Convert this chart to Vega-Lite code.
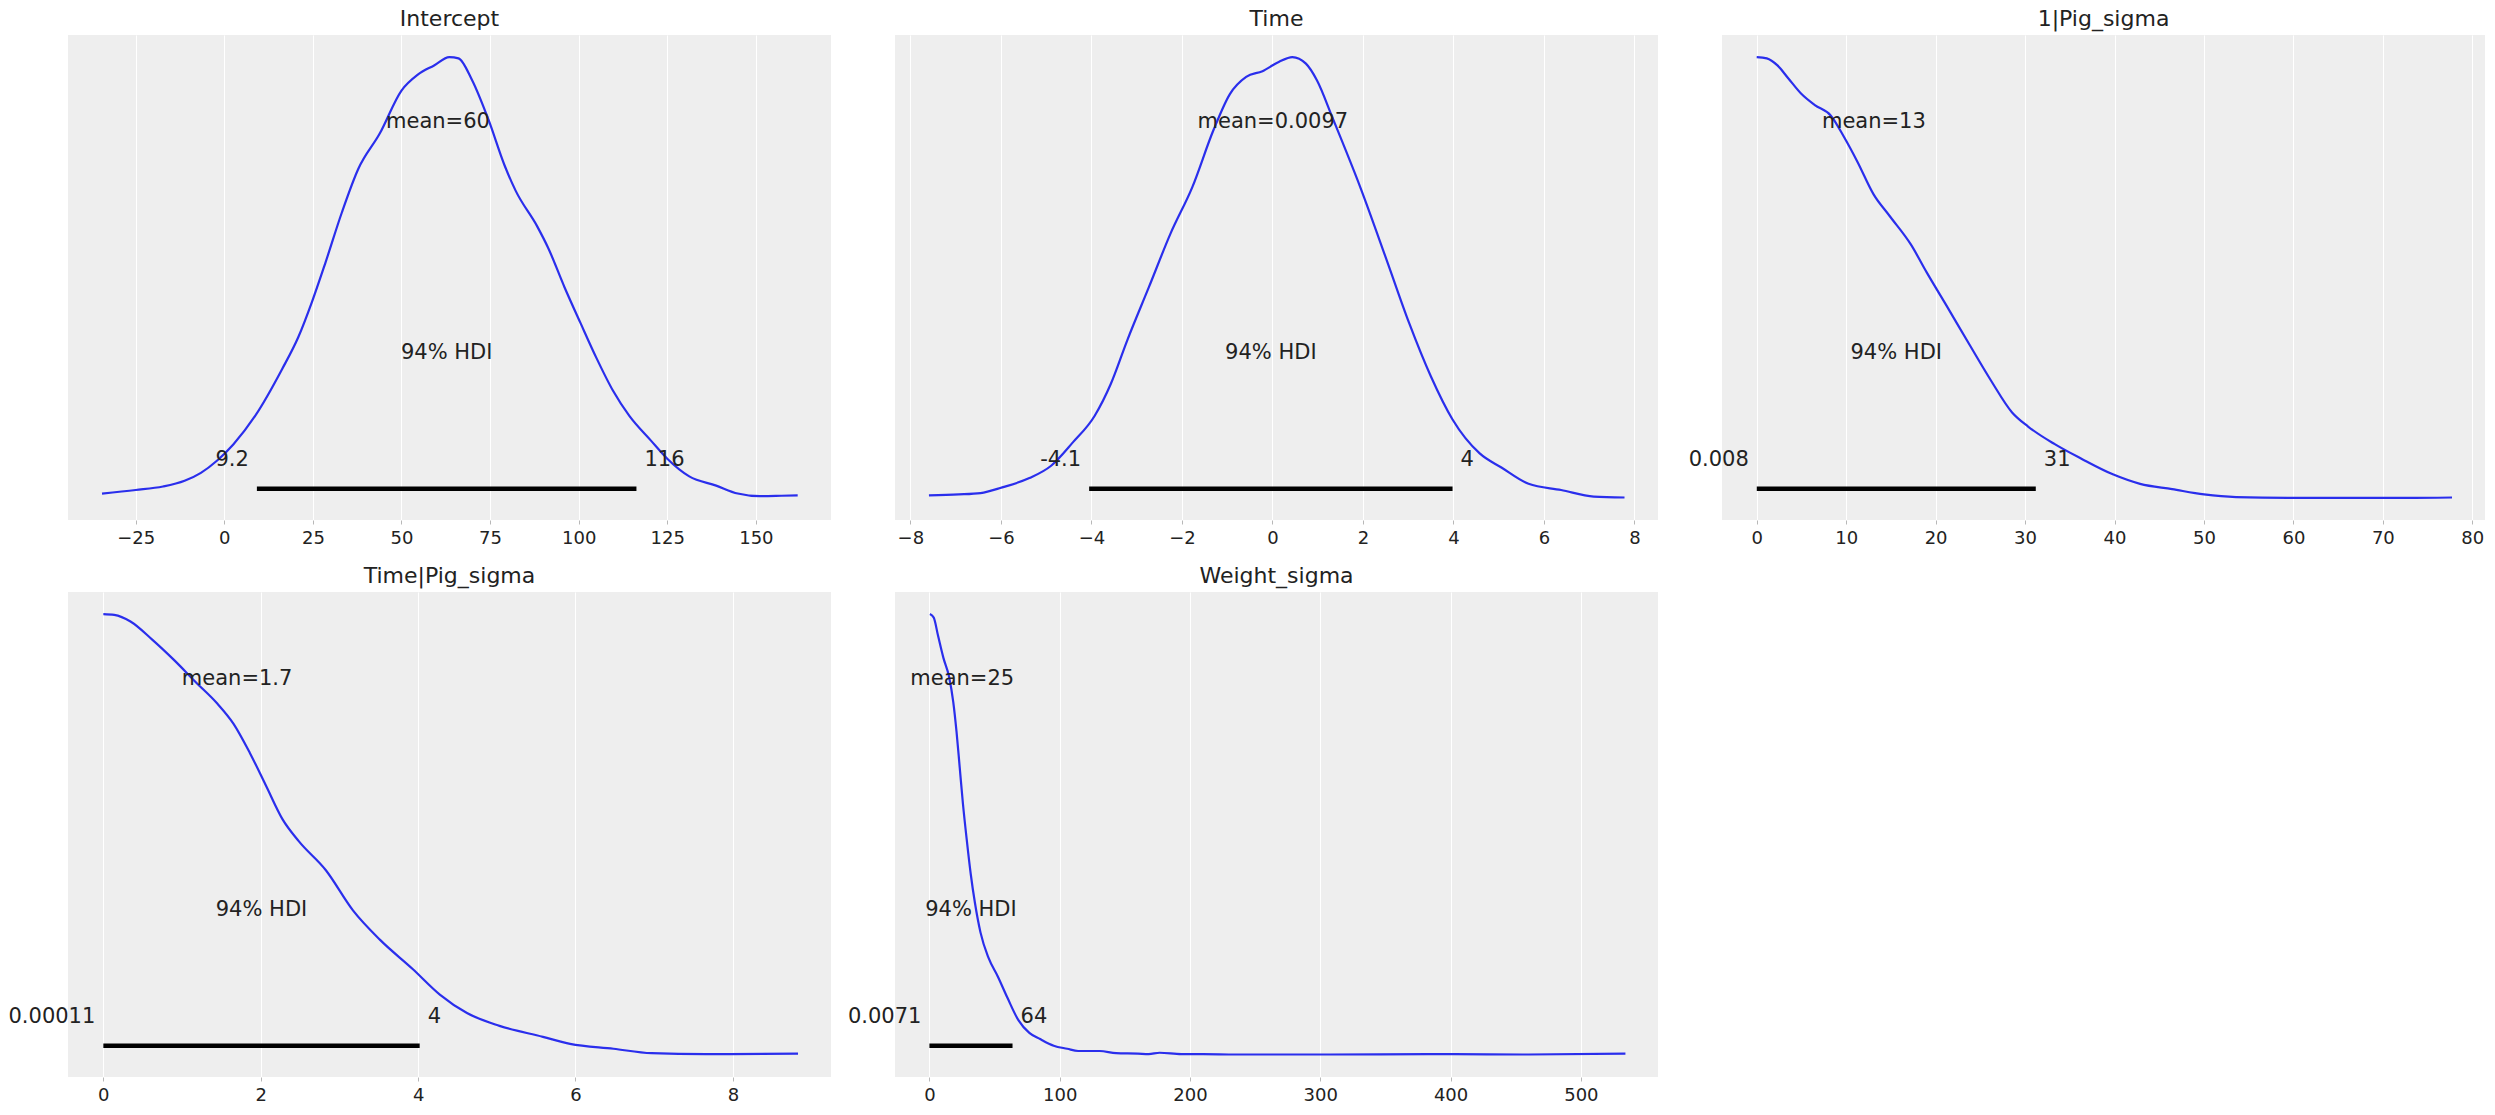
{
  "$schema": "https://vega.github.io/schema/vega-lite/v6.json",
  "background": "white",
  "autosize": {"type": "pad"},
  "padding": {"left": 8, "top": 8, "right": 5, "bottom": 5},
  "bounds": "flush",
  "columns": 3,
  "spacing": {"row": 72, "column": 64},
  "datasets": {
    "kde": [
      {"p":"Intercept","x":-34.5,"y":0.010},{"p":"Intercept","x":-25,"y":0.018},{"p":"Intercept","x":-17.3,"y":0.026},{"p":"Intercept","x":-11.2,"y":0.039},{"p":"Intercept","x":-6.6,"y":0.057},{"p":"Intercept","x":-2.0,"y":0.085},{"p":"Intercept","x":2.6,"y":0.122},{"p":"Intercept","x":8.7,"y":0.186},{"p":"Intercept","x":16.3,"y":0.292},{"p":"Intercept","x":20.9,"y":0.365},{"p":"Intercept","x":24.8,"y":0.446},{"p":"Intercept","x":28.6,"y":0.535},{"p":"Intercept","x":33.2,"y":0.648},{"p":"Intercept","x":37.8,"y":0.746},{"p":"Intercept","x":43.9,"y":0.827},{"p":"Intercept","x":50.0,"y":0.924},{"p":"Intercept","x":54.6,"y":0.960},{"p":"Intercept","x":59.2,"y":0.981},{"p":"Intercept","x":63.5,"y":1.0},{"p":"Intercept","x":66.1,"y":0.997},{"p":"Intercept","x":69.9,"y":0.948},{"p":"Intercept","x":74.5,"y":0.859},{"p":"Intercept","x":79.1,"y":0.754},{"p":"Intercept","x":82.2,"y":0.697},{"p":"Intercept","x":88.3,"y":0.616},{"p":"Intercept","x":91.4,"y":0.567},{"p":"Intercept","x":96.0,"y":0.478},{"p":"Intercept","x":100.5,"y":0.397},{"p":"Intercept","x":105.1,"y":0.316},{"p":"Intercept","x":109.7,"y":0.243},{"p":"Intercept","x":114.3,"y":0.186},{"p":"Intercept","x":120.4,"y":0.130},{"p":"Intercept","x":125.0,"y":0.089},{"p":"Intercept","x":131.2,"y":0.049},{"p":"Intercept","x":138.8,"y":0.028},{"p":"Intercept","x":144.9,"y":0.010},{"p":"Intercept","x":151.1,"y":0.004},{"p":"Intercept","x":157.2,"y":0.005},{"p":"Intercept","x":161.8,"y":0.006},
      {"p":"Time","x":-7.59,"y":0.006},{"p":"Time","x":-6.93,"y":0.008},{"p":"Time","x":-6.45,"y":0.011},{"p":"Time","x":-5.97,"y":0.024},{"p":"Time","x":-5.37,"y":0.045},{"p":"Time","x":-4.89,"y":0.073},{"p":"Time","x":-4.41,"y":0.126},{"p":"Time","x":-3.93,"y":0.186},{"p":"Time","x":-3.57,"y":0.259},{"p":"Time","x":-3.21,"y":0.357},{"p":"Time","x":-2.73,"y":0.478},{"p":"Time","x":-2.25,"y":0.600},{"p":"Time","x":-1.77,"y":0.705},{"p":"Time","x":-1.30,"y":0.835},{"p":"Time","x":-0.94,"y":0.916},{"p":"Time","x":-0.58,"y":0.955},{"p":"Time","x":-0.22,"y":0.968},{"p":"Time","x":0.14,"y":0.989},{"p":"Time","x":0.44,"y":1.0},{"p":"Time","x":0.74,"y":0.985},{"p":"Time","x":0.98,"y":0.948},{"p":"Time","x":1.34,"y":0.859},{"p":"Time","x":1.94,"y":0.705},{"p":"Time","x":2.54,"y":0.535},{"p":"Time","x":3.02,"y":0.397},{"p":"Time","x":3.50,"y":0.276},{"p":"Time","x":3.98,"y":0.178},{"p":"Time","x":4.58,"y":0.101},{"p":"Time","x":5.06,"y":0.069},{"p":"Time","x":5.66,"y":0.032},{"p":"Time","x":6.38,"y":0.018},{"p":"Time","x":7.10,"y":0.003},{"p":"Time","x":7.78,"y":0.001},
      {"p":"1|Pig_sigma","x":0,"y":1.0},{"p":"1|Pig_sigma","x":1.13,"y":0.997},{"p":"1|Pig_sigma","x":2.32,"y":0.981},{"p":"1|Pig_sigma","x":3.52,"y":0.952},{"p":"1|Pig_sigma","x":5.01,"y":0.916},{"p":"1|Pig_sigma","x":6.50,"y":0.891},{"p":"1|Pig_sigma","x":8.29,"y":0.867},{"p":"1|Pig_sigma","x":9.78,"y":0.818},{"p":"1|Pig_sigma","x":11.27,"y":0.762},{"p":"1|Pig_sigma","x":13.05,"y":0.689},{"p":"1|Pig_sigma","x":14.84,"y":0.640},{"p":"1|Pig_sigma","x":17.23,"y":0.575},{"p":"1|Pig_sigma","x":19.02,"y":0.511},{"p":"1|Pig_sigma","x":21.40,"y":0.430},{"p":"1|Pig_sigma","x":23.78,"y":0.348},{"p":"1|Pig_sigma","x":26.17,"y":0.267},{"p":"1|Pig_sigma","x":28.55,"y":0.194},{"p":"1|Pig_sigma","x":30.34,"y":0.162},{"p":"1|Pig_sigma","x":33.32,"y":0.122},{"p":"1|Pig_sigma","x":36.30,"y":0.089},{"p":"1|Pig_sigma","x":39.88,"y":0.053},{"p":"1|Pig_sigma","x":42.86,"y":0.032},{"p":"1|Pig_sigma","x":46.44,"y":0.020},{"p":"1|Pig_sigma","x":50.01,"y":0.008},{"p":"1|Pig_sigma","x":53.59,"y":0.002},{"p":"1|Pig_sigma","x":60.74,"y":0.0},{"p":"1|Pig_sigma","x":72.67,"y":0.0},{"p":"1|Pig_sigma","x":77.73,"y":0.001},
      {"p":"Time|Pig_sigma","x":0,"y":1.0},{"p":"Time|Pig_sigma","x":0.138,"y":0.998},{"p":"Time|Pig_sigma","x":0.345,"y":0.983},{"p":"Time|Pig_sigma","x":0.621,"y":0.942},{"p":"Time|Pig_sigma","x":0.897,"y":0.896},{"p":"Time|Pig_sigma","x":1.172,"y":0.846},{"p":"Time|Pig_sigma","x":1.448,"y":0.797},{"p":"Time|Pig_sigma","x":1.655,"y":0.751},{"p":"Time|Pig_sigma","x":1.862,"y":0.685},{"p":"Time|Pig_sigma","x":2.069,"y":0.610},{"p":"Time|Pig_sigma","x":2.276,"y":0.535},{"p":"Time|Pig_sigma","x":2.483,"y":0.485},{"p":"Time|Pig_sigma","x":2.828,"y":0.419},{"p":"Time|Pig_sigma","x":3.172,"y":0.328},{"p":"Time|Pig_sigma","x":3.517,"y":0.261},{"p":"Time|Pig_sigma","x":3.931,"y":0.195},{"p":"Time|Pig_sigma","x":4.276,"y":0.137},{"p":"Time|Pig_sigma","x":4.621,"y":0.095},{"p":"Time|Pig_sigma","x":5.034,"y":0.066},{"p":"Time|Pig_sigma","x":5.586,"y":0.041},{"p":"Time|Pig_sigma","x":5.931,"y":0.025},{"p":"Time|Pig_sigma","x":6.483,"y":0.014},{"p":"Time|Pig_sigma","x":6.966,"y":0.004},{"p":"Time|Pig_sigma","x":7.655,"y":0.002},{"p":"Time|Pig_sigma","x":8.828,"y":0.003},
      {"p":"Weight_sigma","x":0.4,"y":1.0},{"p":"Weight_sigma","x":3.3,"y":0.992},{"p":"Weight_sigma","x":6.7,"y":0.950},{"p":"Weight_sigma","x":10.8,"y":0.900},{"p":"Weight_sigma","x":15.0,"y":0.859},{"p":"Weight_sigma","x":18.3,"y":0.801},{"p":"Weight_sigma","x":20.8,"y":0.734},{"p":"Weight_sigma","x":23.3,"y":0.651},{"p":"Weight_sigma","x":25.8,"y":0.568},{"p":"Weight_sigma","x":28.75,"y":0.486},{"p":"Weight_sigma","x":31.7,"y":0.411},{"p":"Weight_sigma","x":35.0,"y":0.344},{"p":"Weight_sigma","x":39.2,"y":0.278},{"p":"Weight_sigma","x":45.4,"y":0.220},{"p":"Weight_sigma","x":52.5,"y":0.178},{"p":"Weight_sigma","x":60.0,"y":0.129},{"p":"Weight_sigma","x":68.3,"y":0.079},{"p":"Weight_sigma","x":76.7,"y":0.050},{"p":"Weight_sigma","x":85.0,"y":0.036},{"p":"Weight_sigma","x":95.4,"y":0.021},{"p":"Weight_sigma","x":105.8,"y":0.014},{"p":"Weight_sigma","x":114.2,"y":0.009},{"p":"Weight_sigma","x":130.8,"y":0.009},{"p":"Weight_sigma","x":143.3,"y":0.004},{"p":"Weight_sigma","x":160.0,"y":0.003},{"p":"Weight_sigma","x":168.3,"y":0.002},{"p":"Weight_sigma","x":176.7,"y":0.005},{"p":"Weight_sigma","x":193.3,"y":0.002},{"p":"Weight_sigma","x":210,"y":0.002},{"p":"Weight_sigma","x":235,"y":0.001},{"p":"Weight_sigma","x":293,"y":0.001},{"p":"Weight_sigma","x":397.5,"y":0.002},{"p":"Weight_sigma","x":460,"y":0.001},{"p":"Weight_sigma","x":534.2,"y":0.003}
    ],
    "hdi": [
      {"p":"Intercept","mean":60.3,"mean_label":"mean=60","hdi_low":9.2,"hdi_high":116.3,"hdi_mid":62.75,"low_label":"9.2","high_label":"116","hdi_label":"94% HDI"},
      {"p":"Time","mean":0.0097,"mean_label":"mean=0.0097","hdi_low":-4.05,"hdi_high":3.98,"hdi_mid":-0.035,"low_label":"-4.1","high_label":"4","hdi_label":"94% HDI"},
      {"p":"1|Pig_sigma","mean":13.1,"mean_label":"mean=13","hdi_low":0.008,"hdi_high":31.2,"hdi_mid":15.6,"low_label":"0.008","high_label":"31","hdi_label":"94% HDI"},
      {"p":"Time|Pig_sigma","mean":1.7,"mean_label":"mean=1.7","hdi_low":0.00011,"hdi_high":4.02,"hdi_mid":2.01,"low_label":"0.00011","high_label":"4","hdi_label":"94% HDI"},
      {"p":"Weight_sigma","mean":25.2,"mean_label":"mean=25","hdi_low":0.0071,"hdi_high":63.8,"hdi_mid":31.9,"low_label":"0.0071","high_label":"64","hdi_label":"94% HDI"}
    ]
  },
  "concat": [
    {
      "title": "Intercept", "width": 763, "height": 485,
      "layer": [
        {"data": {"name": "kde"}, "transform": [{"filter": "datum.p === 'Intercept'"}], "mark": {"type": "line", "color": "#2a2eec", "strokeWidth": 2.2, "interpolate": "monotone"},
         "encoding": {"x": {"field": "x", "type": "quantitative", "scale": {"domain": [-44.1, 171.2], "nice": false, "zero": false}, "axis": {"values": [-25, 0, 25, 50, 75, 100, 125, 150], "title": null, "format": "d"}},
                      "y": {"field": "y", "type": "quantitative", "scale": {"domain": [-0.05, 1.05], "nice": false, "zero": false}, "axis": null}}},
        {"data": {"name": "hdi"}, "transform": [{"filter": "datum.p === 'Intercept'"}], "mark": {"type": "rule", "color": "#000000", "strokeWidth": 4.5, "strokeCap": "butt"},
         "encoding": {"x": {"field": "hdi_low", "type": "quantitative"}, "x2": {"field": "hdi_high"}, "y": {"datum": 0.021}}},
        {"data": {"name": "hdi"}, "transform": [{"filter": "datum.p === 'Intercept'"}], "mark": {"type": "text", "fontSize": 21, "color": "#222222", "baseline": "alphabetic", "align": "center"},
         "encoding": {"x": {"field": "mean", "type": "quantitative"}, "y": {"datum": 0.84}, "text": {"field": "mean_label"}}},
        {"data": {"name": "hdi"}, "transform": [{"filter": "datum.p === 'Intercept'"}], "mark": {"type": "text", "fontSize": 21, "color": "#222222", "baseline": "alphabetic", "align": "center"},
         "encoding": {"x": {"field": "hdi_mid", "type": "quantitative"}, "y": {"datum": 0.315}, "text": {"field": "hdi_label"}}},
        {"data": {"name": "hdi"}, "transform": [{"filter": "datum.p === 'Intercept'"}], "mark": {"type": "text", "fontSize": 21, "color": "#222222", "baseline": "alphabetic", "align": "right", "dx": -8},
         "encoding": {"x": {"field": "hdi_low", "type": "quantitative"}, "y": {"datum": 0.0735}, "text": {"field": "low_label"}}},
        {"data": {"name": "hdi"}, "transform": [{"filter": "datum.p === 'Intercept'"}], "mark": {"type": "text", "fontSize": 21, "color": "#222222", "baseline": "alphabetic", "align": "left", "dx": 8},
         "encoding": {"x": {"field": "hdi_high", "type": "quantitative"}, "y": {"datum": 0.0735}, "text": {"field": "high_label"}}}
      ]
    },
    {
      "title": "Time", "width": 763, "height": 485,
      "layer": [
        {"data": {"name": "kde"}, "transform": [{"filter": "datum.p === 'Time'"}], "mark": {"type": "line", "color": "#2a2eec", "strokeWidth": 2.2, "interpolate": "monotone"},
         "encoding": {"x": {"field": "x", "type": "quantitative", "scale": {"domain": [-8.34, 8.52], "nice": false, "zero": false}, "axis": {"values": [-8, -6, -4, -2, 0, 2, 4, 6, 8], "title": null, "format": "d"}},
                      "y": {"field": "y", "type": "quantitative", "scale": {"domain": [-0.05, 1.05], "nice": false, "zero": false}, "axis": null}}},
        {"data": {"name": "hdi"}, "transform": [{"filter": "datum.p === 'Time'"}], "mark": {"type": "rule", "color": "#000000", "strokeWidth": 4.5, "strokeCap": "butt"},
         "encoding": {"x": {"field": "hdi_low", "type": "quantitative"}, "x2": {"field": "hdi_high"}, "y": {"datum": 0.021}}},
        {"data": {"name": "hdi"}, "transform": [{"filter": "datum.p === 'Time'"}], "mark": {"type": "text", "fontSize": 21, "color": "#222222", "baseline": "alphabetic", "align": "center"},
         "encoding": {"x": {"field": "mean", "type": "quantitative"}, "y": {"datum": 0.84}, "text": {"field": "mean_label"}}},
        {"data": {"name": "hdi"}, "transform": [{"filter": "datum.p === 'Time'"}], "mark": {"type": "text", "fontSize": 21, "color": "#222222", "baseline": "alphabetic", "align": "center"},
         "encoding": {"x": {"field": "hdi_mid", "type": "quantitative"}, "y": {"datum": 0.315}, "text": {"field": "hdi_label"}}},
        {"data": {"name": "hdi"}, "transform": [{"filter": "datum.p === 'Time'"}], "mark": {"type": "text", "fontSize": 21, "color": "#222222", "baseline": "alphabetic", "align": "right", "dx": -8},
         "encoding": {"x": {"field": "hdi_low", "type": "quantitative"}, "y": {"datum": 0.0735}, "text": {"field": "low_label"}}},
        {"data": {"name": "hdi"}, "transform": [{"filter": "datum.p === 'Time'"}], "mark": {"type": "text", "fontSize": 21, "color": "#222222", "baseline": "alphabetic", "align": "left", "dx": 8},
         "encoding": {"x": {"field": "hdi_high", "type": "quantitative"}, "y": {"datum": 0.0735}, "text": {"field": "high_label"}}}
      ]
    },
    {
      "title": "1|Pig_sigma", "width": 763, "height": 485,
      "layer": [
        {"data": {"name": "kde"}, "transform": [{"filter": "datum.p === '1|Pig_sigma'"}], "mark": {"type": "line", "color": "#2a2eec", "strokeWidth": 2.2, "interpolate": "monotone"},
         "encoding": {"x": {"field": "x", "type": "quantitative", "scale": {"domain": [-3.88, 81.42], "nice": false, "zero": false}, "axis": {"values": [0, 10, 20, 30, 40, 50, 60, 70, 80], "title": null, "format": "d"}},
                      "y": {"field": "y", "type": "quantitative", "scale": {"domain": [-0.05, 1.05], "nice": false, "zero": false}, "axis": null}}},
        {"data": {"name": "hdi"}, "transform": [{"filter": "datum.p === '1|Pig_sigma'"}], "mark": {"type": "rule", "color": "#000000", "strokeWidth": 4.5, "strokeCap": "butt"},
         "encoding": {"x": {"field": "hdi_low", "type": "quantitative"}, "x2": {"field": "hdi_high"}, "y": {"datum": 0.021}}},
        {"data": {"name": "hdi"}, "transform": [{"filter": "datum.p === '1|Pig_sigma'"}], "mark": {"type": "text", "fontSize": 21, "color": "#222222", "baseline": "alphabetic", "align": "center"},
         "encoding": {"x": {"field": "mean", "type": "quantitative"}, "y": {"datum": 0.84}, "text": {"field": "mean_label"}}},
        {"data": {"name": "hdi"}, "transform": [{"filter": "datum.p === '1|Pig_sigma'"}], "mark": {"type": "text", "fontSize": 21, "color": "#222222", "baseline": "alphabetic", "align": "center"},
         "encoding": {"x": {"field": "hdi_mid", "type": "quantitative"}, "y": {"datum": 0.315}, "text": {"field": "hdi_label"}}},
        {"data": {"name": "hdi"}, "transform": [{"filter": "datum.p === '1|Pig_sigma'"}], "mark": {"type": "text", "fontSize": 21, "color": "#222222", "baseline": "alphabetic", "align": "right", "dx": -8},
         "encoding": {"x": {"field": "hdi_low", "type": "quantitative"}, "y": {"datum": 0.0735}, "text": {"field": "low_label"}}},
        {"data": {"name": "hdi"}, "transform": [{"filter": "datum.p === '1|Pig_sigma'"}], "mark": {"type": "text", "fontSize": 21, "color": "#222222", "baseline": "alphabetic", "align": "left", "dx": 8},
         "encoding": {"x": {"field": "hdi_high", "type": "quantitative"}, "y": {"datum": 0.0735}, "text": {"field": "high_label"}}}
      ]
    },
    {
      "title": "Time|Pig_sigma", "width": 763, "height": 485,
      "layer": [
        {"data": {"name": "kde"}, "transform": [{"filter": "datum.p === 'Time|Pig_sigma'"}], "mark": {"type": "line", "color": "#2a2eec", "strokeWidth": 2.2, "interpolate": "monotone"},
         "encoding": {"x": {"field": "x", "type": "quantitative", "scale": {"domain": [-0.449, 9.247], "nice": false, "zero": false}, "axis": {"values": [0, 2, 4, 6, 8], "title": null, "format": "d"}},
                      "y": {"field": "y", "type": "quantitative", "scale": {"domain": [-0.05, 1.05], "nice": false, "zero": false}, "axis": null}}},
        {"data": {"name": "hdi"}, "transform": [{"filter": "datum.p === 'Time|Pig_sigma'"}], "mark": {"type": "rule", "color": "#000000", "strokeWidth": 4.5, "strokeCap": "butt"},
         "encoding": {"x": {"field": "hdi_low", "type": "quantitative"}, "x2": {"field": "hdi_high"}, "y": {"datum": 0.021}}},
        {"data": {"name": "hdi"}, "transform": [{"filter": "datum.p === 'Time|Pig_sigma'"}], "mark": {"type": "text", "fontSize": 21, "color": "#222222", "baseline": "alphabetic", "align": "center"},
         "encoding": {"x": {"field": "mean", "type": "quantitative"}, "y": {"datum": 0.84}, "text": {"field": "mean_label"}}},
        {"data": {"name": "hdi"}, "transform": [{"filter": "datum.p === 'Time|Pig_sigma'"}], "mark": {"type": "text", "fontSize": 21, "color": "#222222", "baseline": "alphabetic", "align": "center"},
         "encoding": {"x": {"field": "hdi_mid", "type": "quantitative"}, "y": {"datum": 0.315}, "text": {"field": "hdi_label"}}},
        {"data": {"name": "hdi"}, "transform": [{"filter": "datum.p === 'Time|Pig_sigma'"}], "mark": {"type": "text", "fontSize": 21, "color": "#222222", "baseline": "alphabetic", "align": "right", "dx": -8},
         "encoding": {"x": {"field": "hdi_low", "type": "quantitative"}, "y": {"datum": 0.0735}, "text": {"field": "low_label"}}},
        {"data": {"name": "hdi"}, "transform": [{"filter": "datum.p === 'Time|Pig_sigma'"}], "mark": {"type": "text", "fontSize": 21, "color": "#222222", "baseline": "alphabetic", "align": "left", "dx": 8},
         "encoding": {"x": {"field": "hdi_high", "type": "quantitative"}, "y": {"datum": 0.0735}, "text": {"field": "high_label"}}}
      ]
    },
    {
      "title": "Weight_sigma", "width": 763, "height": 485,
      "layer": [
        {"data": {"name": "kde"}, "transform": [{"filter": "datum.p === 'Weight_sigma'"}], "mark": {"type": "line", "color": "#2a2eec", "strokeWidth": 2.2, "interpolate": "monotone"},
         "encoding": {"x": {"field": "x", "type": "quantitative", "scale": {"domain": [-26.4, 559.2], "nice": false, "zero": false}, "axis": {"values": [0, 100, 200, 300, 400, 500], "title": null, "format": "d"}},
                      "y": {"field": "y", "type": "quantitative", "scale": {"domain": [-0.05, 1.05], "nice": false, "zero": false}, "axis": null}}},
        {"data": {"name": "hdi"}, "transform": [{"filter": "datum.p === 'Weight_sigma'"}], "mark": {"type": "rule", "color": "#000000", "strokeWidth": 4.5, "strokeCap": "butt"},
         "encoding": {"x": {"field": "hdi_low", "type": "quantitative"}, "x2": {"field": "hdi_high"}, "y": {"datum": 0.021}}},
        {"data": {"name": "hdi"}, "transform": [{"filter": "datum.p === 'Weight_sigma'"}], "mark": {"type": "text", "fontSize": 21, "color": "#222222", "baseline": "alphabetic", "align": "center"},
         "encoding": {"x": {"field": "mean", "type": "quantitative"}, "y": {"datum": 0.84}, "text": {"field": "mean_label"}}},
        {"data": {"name": "hdi"}, "transform": [{"filter": "datum.p === 'Weight_sigma'"}], "mark": {"type": "text", "fontSize": 21, "color": "#222222", "baseline": "alphabetic", "align": "center"},
         "encoding": {"x": {"field": "hdi_mid", "type": "quantitative"}, "y": {"datum": 0.315}, "text": {"field": "hdi_label"}}},
        {"data": {"name": "hdi"}, "transform": [{"filter": "datum.p === 'Weight_sigma'"}], "mark": {"type": "text", "fontSize": 21, "color": "#222222", "baseline": "alphabetic", "align": "right", "dx": -8},
         "encoding": {"x": {"field": "hdi_low", "type": "quantitative"}, "y": {"datum": 0.0735}, "text": {"field": "low_label"}}},
        {"data": {"name": "hdi"}, "transform": [{"filter": "datum.p === 'Weight_sigma'"}], "mark": {"type": "text", "fontSize": 21, "color": "#222222", "baseline": "alphabetic", "align": "left", "dx": 8},
         "encoding": {"x": {"field": "hdi_high", "type": "quantitative"}, "y": {"datum": 0.0735}, "text": {"field": "high_label"}}}
      ]
    }
  ],
  "config": {
    "font": "DejaVu Sans",
    "view": {"fill": "#eeeeee", "stroke": null},
    "text": {"font": "DejaVu Sans"},
    "title": {"font": "DejaVu Sans", "fontSize": 22, "fontWeight": "normal", "color": "#222222", "anchor": "middle", "offset": 4},
    "axisX": {
      "grid": true, "gridColor": "#ffffff", "gridWidth": 1.1, "domain": false,
      "ticks": true, "tickColor": "#b8b8b8", "tickSize": 4, "tickWidth": 1,
      "labelFont": "DejaVu Sans", "labelFontSize": 18, "labelColor": "#222222", "labelPadding": 5,
      "labelFlush": false, "labelBound": false, "labelOverlap": false
    }
  }
}
